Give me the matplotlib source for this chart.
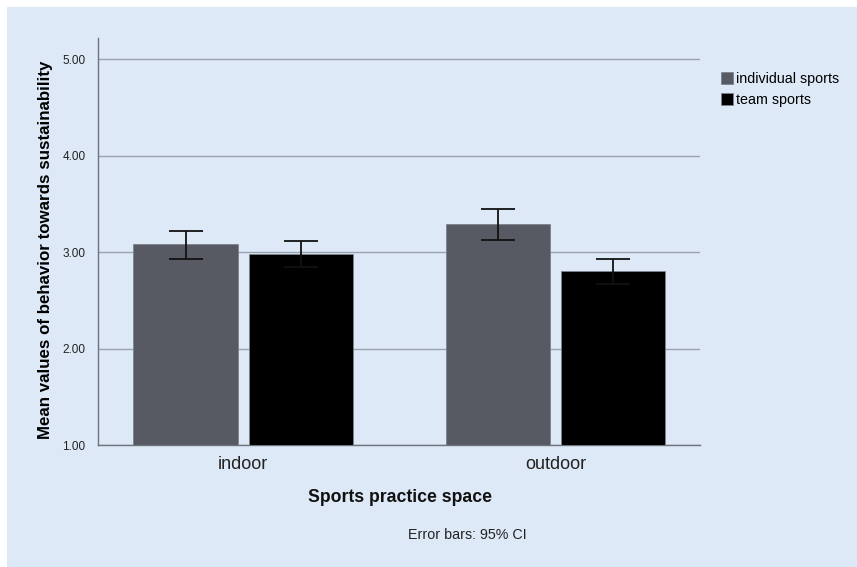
import matplotlib
matplotlib.use('Agg')
import matplotlib.pyplot as plt
from matplotlib.patches import Rectangle
import numpy as np

plt.rcParams['font.family'] = ['Liberation Sans', 'DejaVu Sans']

# Means and 95% CI bounds per practice space
spaces = ['indoor', 'outdoor']
groups = ['individual sports', 'team sports']
means_individual = [3.08, 3.29]
means_team = [2.98, 2.80]
ci_low_individual = [2.93, 3.13]
ci_high_individual = [3.22, 3.45]
ci_low_team = [2.85, 2.67]
ci_high_team = [3.11, 2.93]
y_ticks = [1.0, 2.0, 3.0, 4.0, 5.0]

BG = '#dde9f7'
colors = ['#575a62', '#000000']


def main():
    fig = plt.figure(figsize=(8.57, 5.67), dpi=100, facecolor='white')
    fig.patches.append(Rectangle((7 / 857, 0), 1, 1 - 7 / 567, transform=fig.transFigure,
                                 facecolor=BG, edgecolor='none', zorder=-10))
    ax = fig.add_axes([98 / 857, 122 / 567, 602 / 857, 407 / 567])
    ax.set_facecolor(BG)

    x = np.arange(len(spaces))
    width = 0.333
    offset = 0.184
    series = [(means_individual, ci_low_individual, ci_high_individual),
              (means_team, ci_low_team, ci_high_team)]
    for i, (m, lo, hi) in enumerate(series):
        m = np.array(m)
        err = [m - np.array(lo), np.array(hi) - m]
        pos = x + (i * 2 - 1) * offset
        ax.bar(pos, m - 1.0, bottom=1.0, width=width, color=colors[i],
               edgecolor='#7d838c', linewidth=0.6, label=groups[i], zorder=3)
        ax.errorbar(pos, m, yerr=err, fmt='none', ecolor='#111111',
                    elinewidth=1.3, capsize=12, capthick=1.3, zorder=4)

    ax.set_ylim(1.0, 5.22)
    ax.set_xlim(-0.464, 1.462)
    ax.set_yticks(y_ticks)
    ax.set_yticklabels([f'{t:.2f}' for t in y_ticks], fontsize=8.5, color='#222222')
    ax.set_xticks(x)
    ax.set_xticklabels(spaces, fontsize=13, color='#222222')
    ax.tick_params(axis='y', length=0, pad=9)
    ax.tick_params(axis='x', length=0, pad=8)
    ax.yaxis.grid(True, color='#9aa3ad', linewidth=1.0, zorder=0)
    ax.set_axisbelow(True)
    for side in ['top', 'right']:
        ax.spines[side].set_visible(False)
    for side in ['left', 'bottom']:
        ax.spines[side].set_color('#6e747c')
        ax.spines[side].set_linewidth(1.0)

    ax.set_ylabel('Mean values of behavior towards sustainability', fontsize=12.2,
                  fontweight='bold')
    ax.yaxis.set_label_coords(-45 / 602, 0.479)
    fig.text(400 / 857, 1 - 498 / 567, 'Sports practice space', fontsize=12.7,
             fontweight='bold', ha='center', va='center', color='#111111')
    fig.text(467 / 857, 1 - 535 / 567, 'Error bars: 95% CI', fontsize=10.3,
             ha='center', va='center', color='#222222')

    ax.legend(loc='upper left', bbox_to_anchor=(721 / 857, 1 - 72 / 567),
              bbox_transform=fig.transFigure, frameon=False, fontsize=10.3,
              handlelength=0.85, handleheight=0.95, handletextpad=0.2,
              labelspacing=0.45, borderaxespad=0, borderpad=0)

    fig.savefig('out.png', dpi=100, facecolor=fig.get_facecolor())


if __name__ == '__main__':
    main()
